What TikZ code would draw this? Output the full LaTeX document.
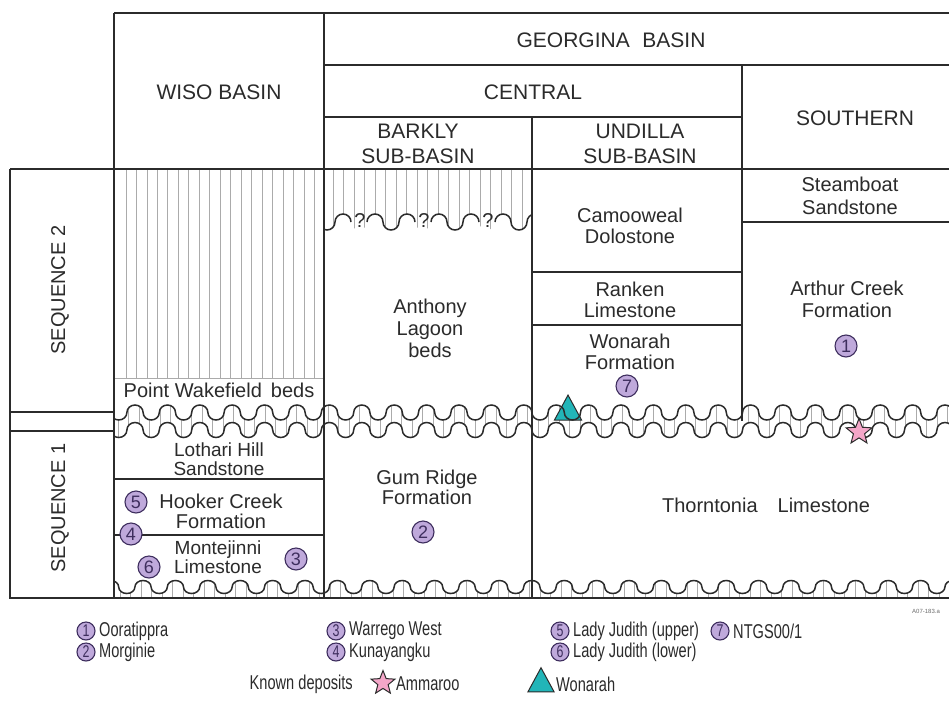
\documentclass[tikz,border=0pt]{standalone}
\usepackage{fontspec}
\setmainfont{Liberation Sans}
\newfontfamily\narrowfont[FakeStretch=0.73]{Liberation Sans}
\usetikzlibrary{shapes.geometric}
\definecolor{ink}{HTML}{2B2B2B}
\definecolor{hatch}{HTML}{ABABAB}
\definecolor{lav}{HTML}{BFA9DB}
\definecolor{lavd}{HTML}{3E2E5E}
\definecolor{pinkstar}{HTML}{F4A6C8}
\definecolor{tealtri}{HTML}{22B5B8}
\newcommand\wv[3]{\foreach \k in {1,...,#1}{arc[start angle=180,end angle=0,x radius=#2pt,y radius=#3pt] arc[start angle=180,end angle=360,x radius=#2pt,y radius=#3pt]}}
\begin{document}
\begin{tikzpicture}[x=1pt,y=-1pt,
  frame/.style={draw=ink, line width=1.3pt},
  hatchline/.style={draw=hatch, line width=0.8pt},
  wave/.style={draw=ink, line width=1.5pt},
  lbl/.style={font=\fontsize{20}{21}\selectfont, text=ink, align=center, inner sep=0pt},
  hdr/.style={font=\fontsize{21}{25}\selectfont, text=ink, align=center, inner sep=0pt},
  dep/.style={circle, draw=lavd, fill=lav, line width=1.1pt, minimum size=22pt, inner sep=0pt, font=\fontsize{18}{18}\selectfont, text=lavd},
  ldep/.style={dep, minimum size=18pt, font=\narrowfont\fontsize{17}{17}\selectfont},
  legtxt/.style={font=\narrowfont\fontsize{20}{20}\selectfont, text=ink, anchor=west, inner sep=0pt},
  tri/.style={isosceles triangle, isosceles triangle apex angle=57, shape border rotate=90, draw=ink, fill=tealtri, line width=1pt, inner sep=0pt},
  starshape/.style={star, star points=5, star point ratio=2.3, draw=ink, fill=pinkstar, line width=1pt, inner sep=0pt},
]
\useasboundingbox (0,0) rectangle (949,709);
\fill[white] (0,0) rectangle (949,709);
% --- hatching
\foreach \i in {0,...,18} \draw[hatchline] ({126+10.47*\i},169) -- ({126+10.47*\i},378);
\begin{scope}
  \clip (324,169) rectangle (532,240);
  \foreach \i in {0,...,18} \draw[hatchline] ({333+10.5*\i},169) -- ({333+10.5*\i},236);
  \fill[white] (303,238) -- (303,222) \wv{8}{8}{8} -- ++(0,16) -- cycle;
\end{scope}
\begin{scope}
  \clip (114,396) rectangle (950,446);
  \foreach \i in {0,...,79} \draw[hatchline] ({118+10.5*\i},400) -- ({118+10.5*\i},442);
  \fill[white] (94.5,398) -- (94.5,412.5) \wv{27}{8.1}{7.5} -- ++(0,-15) -- cycle;
  \fill[white] (94.5,445) -- (94.5,430) \wv{27}{8.1}{7.5} -- ++(0,15) -- cycle;
\end{scope}
\begin{scope}
  \clip (114,570) rectangle (950,598);
  \foreach \i in {0,...,79} \draw[hatchline] ({120+10.5*\i},575) -- ({120+10.5*\i},598);
  \fill[white] (102.5,572) -- (102.5,587) \wv{27}{8.1}{6.5} -- ++(0,-15) -- cycle;
\end{scope}
\draw[hatch, line width=0.8pt] (114,378) -- (324,378);
% --- Wonarah triangle (under the waves)
\node[tri, minimum height=25pt, minimum width=27pt] (wonarahtri) at (568,412) {};
% --- waves
\begin{scope}
  \clip (114,390) rectangle (950,450);
  \draw[wave] (94.5,412.5) \wv{27}{8.1}{7.5};
  \draw[wave] (94.5,430) \wv{27}{8.1}{7.5};
\end{scope}
\begin{scope}
  \clip (114,570) rectangle (950,598);
  \draw[wave] (102.5,587) \wv{27}{8.1}{6.5};
\end{scope}
\begin{scope}
  \clip (324,200) rectangle (532,240);
  \draw[wave] (303,222)
     arc[start angle=180,end angle=0,radius=8pt] arc[start angle=180,end angle=360,radius=8pt] arc[start angle=180,end angle=0,radius=8pt]
     ++(16,0)
     arc[start angle=180,end angle=0,radius=8pt] arc[start angle=180,end angle=360,radius=8pt] arc[start angle=180,end angle=0,radius=8pt]
     ++(16,0)
     arc[start angle=180,end angle=0,radius=8pt] arc[start angle=180,end angle=360,radius=8pt] arc[start angle=180,end angle=0,radius=8pt]
     ++(16,0)
     arc[start angle=180,end angle=0,radius=8pt] arc[start angle=180,end angle=360,radius=8pt] arc[start angle=180,end angle=0,radius=8pt];
\end{scope}
\foreach \x/\n in {360/q1,424/q2,488/q3} \node[font=\fontsize{20}{20}\selectfont, text=ink, inner sep=0pt] (\n) at (\x,221) {?};
% --- frame
\draw[frame] (114,13) -- (950,13);
\draw[frame] (324,65) -- (950,65);
\draw[frame] (324,117) -- (742,117);
\draw[frame] (10,169) -- (950,169);
\draw[frame] (114,13) -- (114,598);
\draw[frame] (324,13) -- (324,598);
\draw[frame] (532,117) -- (532,598);
\draw[frame] (742,65) -- (742,421);
\draw[frame] (10,169) -- (10,598) -- (950,598);
\draw[frame] (10,412) -- (114,412);
\draw[frame] (10,431) -- (114,431);
\draw[frame] (742,222) -- (950,222);
\draw[frame] (532,272) -- (742,272);
\draw[frame] (532,325) -- (742,325);
\draw[frame] (114,479) -- (324,479);
\draw[frame] (114,535) -- (324,535);
% --- headers
\node[hdr] (wiso) at (219,92) {WISO BASIN};
\node[hdr] (georgina) at (611,40) {GEORGINA\hspace{0.6em}BASIN};
\node[hdr] (central) at (533,92) {CENTRAL};
\node[hdr] (southern) at (855,118) {SOUTHERN};
\node[hdr] (barkly) at (418,144) {BARKLY\\SUB-BASIN};
\node[hdr] (undilla) at (640,144) {UNDILLA\\SUB-BASIN};
\node[lbl, rotate=90] (seq2) at (60,290) {SEQUENCE 2};
\node[lbl, rotate=90] (seq1) at (60,508) {SEQUENCE 1};
% --- units
\node[lbl, font=\fontsize{20}{23}\selectfont] (steamboat) at (850,196) {Steamboat\\Sandstone};
\node[lbl] (camooweal) at (630,226) {Camooweal\\Dolostone};
\node[lbl] (ranken) at (630,300) {Ranken\\Limestone};
\node[lbl] (wonarahf) at (630,352) {Wonarah\\Formation};
\node[lbl, font=\fontsize{20}{22}\selectfont] (arthur) at (847,299) {Arthur Creek\\Formation};
\node[lbl, font=\fontsize{20}{22}\selectfont] (anthony) at (430,328) {Anthony\\Lagoon\\beds};
\node[lbl] (pointw) at (219,390) {Point Wakefield\hspace{0.45em}beds};
\node[lbl, font=\fontsize{19}{19}\selectfont] (lothari) at (219,459) {Lothari Hill\\Sandstone};
\node[lbl, font=\fontsize{20}{20}\selectfont] (hooker) at (221,511) {Hooker Creek\\Formation};
\node[lbl, font=\fontsize{19}{18.5}\selectfont] (montej) at (218,557) {Montejinni\\Limestone};
\node[lbl, font=\fontsize{20}{20}\selectfont] (gumridge) at (427,487) {Gum Ridge\\Formation};
\node[lbl] (thorntonia) at (766,505) {Thorntonia\hspace{1em}Limestone};
% --- deposits on chart
\node[dep] (d1) at (846,346) {1};
\node[dep] (d2) at (423,532) {2};
\node[dep] (d3) at (296,559) {3};
\node[dep] (d4) at (131,534) {4};
\node[dep] (d5) at (136,502) {5};
\node[dep] (d6) at (149,567) {6};
\node[dep] (d7) at (627,386) {7};
\node[starshape, minimum size=27pt] (ammaroostar) at (859,432) {};
% --- legend
\node[font=\fontsize{6}{6}\selectfont, text=ink!70, anchor=west, inner sep=0pt] (code) at (912,611) {A07-183.a};
\node[ldep] (l1) at (86,631) {1};
\node[legtxt] (l1t) at (99,631) {Ooratippra};
\node[ldep] (l2) at (86,652) {2};
\node[legtxt] (l2t) at (99,652) {Morginie};
\node[ldep] (l3) at (336,631) {3};
\node[legtxt] (l3t) at (349,631) {Warrego West};
\node[ldep] (l4) at (336,652) {4};
\node[legtxt] (l4t) at (349,652) {Kunayangku};
\node[ldep] (l5) at (560,631) {5};
\node[legtxt] (l5t) at (573,631) {Lady Judith (upper)};
\node[ldep] (l6) at (560,652) {6};
\node[legtxt] (l6t) at (573,652) {Lady Judith (lower)};
\node[ldep] (l7) at (720,631) {7};
\node[legtxt] (l7t) at (733,631) {NTGS00/1};
\node[legtxt, anchor=east] (known) at (353,684) {Known deposits};
\node[starshape, minimum size=25pt] (lstar) at (383,683) {};
\node[legtxt] (lstart) at (396,684) {Ammaroo};
\node[tri, minimum height=24pt, minimum width=26pt] (ltri) at (541,684) {};
\node[legtxt] (ltrit) at (556,684) {Wonarah};
\end{tikzpicture}
\end{document}
